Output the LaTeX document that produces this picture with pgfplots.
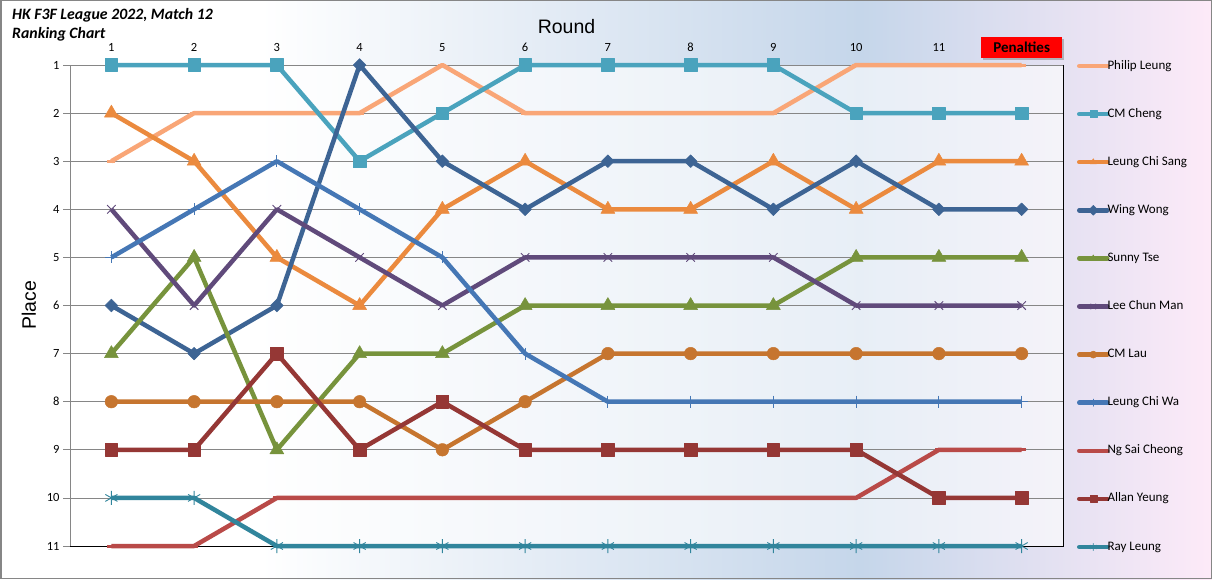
\documentclass[border=0pt]{standalone}
\usepackage{pgfplots}
\pgfplotsset{compat=1.18}
\usepackage{pgfplotstable}
\usepackage{fontspec}
\setmainfont{Carlito}
\newfontfamily\arialfont{Liberation Sans}
\usetikzlibrary{shadows}

\definecolor{bgblue}{HTML}{C5D6EA}
\definecolor{bgpink}{HTML}{FDEAF8}
\definecolor{gridgray}{HTML}{868686}
\definecolor{cPL}{HTML}{F9A677}
\definecolor{cCC}{HTML}{4AA3BD}
\definecolor{cLCS}{HTML}{EB8A3E}
\definecolor{cWW}{HTML}{3D6494}
\definecolor{cST}{HTML}{77933C}
\definecolor{cLCM}{HTML}{604A7B}
\definecolor{cCL}{HTML}{C6752F}
\definecolor{cLCW}{HTML}{4577B5}
\definecolor{cNSC}{HTML}{B94A48}
\definecolor{cAY}{HTML}{953735}
\definecolor{cRL}{HTML}{31859C}

\pgfplotstableread{
r PL CC LCS WW ST LCM CL LCW NSC AY RL
1 3 1 2 6 7 4 8 5 11 9 10
2 2 1 3 7 5 6 8 4 11 9 10
3 2 1 5 6 9 4 8 3 10 7 11
4 2 3 6 1 7 5 8 4 10 9 11
5 1 2 4 3 7 6 9 5 10 8 11
6 2 1 3 4 6 5 8 7 10 9 11
7 2 1 4 3 6 5 7 8 10 9 11
8 2 1 4 3 6 5 7 8 10 9 11
9 2 1 3 4 6 5 7 8 10 9 11
10 1 2 4 3 5 6 7 8 10 9 11
11 1 2 3 4 5 6 7 8 9 10 11
12 1 2 3 4 5 6 7 8 9 10 11
}\data

\begin{document}
\begin{tikzpicture}
\fill[white] (0,0) rectangle (261pt,579pt);
\shade[left color=white, right color=bgblue] (260pt,0) rectangle (861pt,579pt);
\shade[left color=bgblue, right color=bgpink] (860pt,0) rectangle (1212pt,579pt);
\draw[gridgray, line width=1.5pt] (0.75pt,0.75pt) rectangle (1211.25pt,578.25pt);
\node[anchor=base west, inner sep=0pt, font=\fontsize{15.8}{19}\selectfont\bfseries\itshape] at (12pt,559pt) {HK F3F League 2022, Match 12};
\node[anchor=base west, inner sep=0pt, font=\fontsize{15.8}{19}\selectfont\bfseries\itshape] at (12pt,540pt) {Ranking Chart};
\begin{axis}[
  at={(70pt,33pt)}, anchor=south west,
  scale only axis, width=993pt, height=481pt,
  xmin=0.5, xmax=12.5, ymin=1, ymax=11, y dir=reverse,
  clip=false,
  axis background/.style={fill=white, fill opacity=0.6},
  axis line style={draw=none},
  xtick={1,...,11}, xticklabel pos=top,
  xtick style={draw=none},
  xticklabel style={anchor=base, yshift=7pt},
  extra x ticks={12}, extra x tick labels={Penalties},
  extra x tick style={xticklabel style={anchor=center, yshift=4pt, fill=red, inner sep=0pt, minimum width=81pt, minimum height=21pt, font=\fontsize{15}{17}\selectfont\bfseries, drop shadow={shadow xshift=2pt, shadow yshift=-2pt, fill=black!50}}},
  ytick={1,...,11}, ytick pos=left,
  tick align=outside, major tick length=7pt,
  ytick style={draw=gridgray, line width=0.8pt},
  ymajorgrids, major grid style={draw=gridgray, line width=0.8pt},
  tick label style={font=\fontsize{12.5}{14}\selectfont},
  /pgf/number format/assume math mode=true,
  xlabel={Round}, xlabel style={at={(axis description cs:0.5,1)}, anchor=base, yshift=32pt, font=\arialfont\fontsize{19.5}{22}\selectfont},
  ylabel={Place}, ylabel style={at={(axis description cs:0,0.5)}, anchor=base, yshift=34pt, font=\arialfont\fontsize{19.5}{22}\selectfont},
  every axis plot/.append style={line width=4.5pt, line join=round},
  legend style={at={(axis description cs:1.0141,1.0104)}, anchor=north west, draw=none, fill=none, inner sep=0pt, outer sep=0pt, row sep=36.1pt, column sep=-2pt, font=\fontsize{13}{15}\selectfont, nodes={inner sep=0pt, text height=9pt, text depth=3pt}},
  legend cell align=left,
  legend image code/.code={\draw[#1, mark size=3.5pt, line cap=round, mark repeat=2, mark phase=2] plot coordinates {(0pt,0pt) (14pt,0pt) (28pt,0pt)};},
]
\draw[gridgray, line width=1pt] (axis cs:0.5,1) -- (axis cs:0.5,11);
\draw[black, line width=1pt] (axis cs:0.5,11) -- (axis cs:12.5,11) -- (axis cs:12.5,1);

\addplot[cPL, mark=-, mark size=4pt, mark options={solid, line width=3pt}] table[x=r, y=PL] {\data};
\addlegendentry{Philip Leung}
\addplot[cCC, mark=square*, mark size=6.3pt, mark options={solid, fill=cCC, draw=cCC, line width=0.5pt}] table[x=r, y=CC] {\data};
\addlegendentry{CM Cheng}
\addplot[cLCS, mark=triangle*, mark size=8pt, mark options={solid, fill=cLCS, draw=cLCS, line width=0.5pt}] table[x=r, y=LCS] {\data};
\addlegendentry{Leung Chi Sang}
\addplot[cWW, mark=square*, mark size=4.5pt, mark options={solid, rotate=45, fill=cWW, draw=cWW, line width=0.5pt}] table[x=r, y=WW] {\data};
\addlegendentry{Wing Wong}
\addplot[cST, mark=triangle*, mark size=8pt, mark options={solid, fill=cST, draw=cST, line width=0.5pt}] table[x=r, y=ST] {\data};
\addlegendentry{Sunny Tse}
\addplot[cLCM, mark=x, mark size=6pt, mark options={solid, line width=0.9pt}] table[x=r, y=LCM] {\data};
\addlegendentry{Lee Chun Man}
\addplot[cCL, mark=*, mark size=6.3pt, mark options={solid, fill=cCL, draw=cCL, line width=0.5pt}] table[x=r, y=CL] {\data};
\addlegendentry{CM Lau}
\addplot[cLCW, mark=+, mark size=6pt, mark options={solid, line width=0.9pt}] table[x=r, y=LCW] {\data};
\addlegendentry{Leung Chi Wa}
\addplot[cNSC, mark=-, mark size=4pt, mark options={solid, line width=3pt}] table[x=r, y=NSC] {\data};
\addlegendentry{Ng Sai Cheong}
\addplot[cAY, mark=square*, mark size=6.3pt, mark options={solid, fill=cAY, draw=cAY, line width=0.5pt}] table[x=r, y=AY] {\data};
\addlegendentry{Allan Yeung}
\addplot[cRL, mark=asterisk, mark size=7pt, mark options={solid, line width=0.9pt}] table[x=r, y=RL] {\data};
\addlegendentry{Ray Leung}
\end{axis}
\pgfresetboundingbox
\path (0,0) rectangle (1212pt,579pt);
\end{tikzpicture}
\end{document}
